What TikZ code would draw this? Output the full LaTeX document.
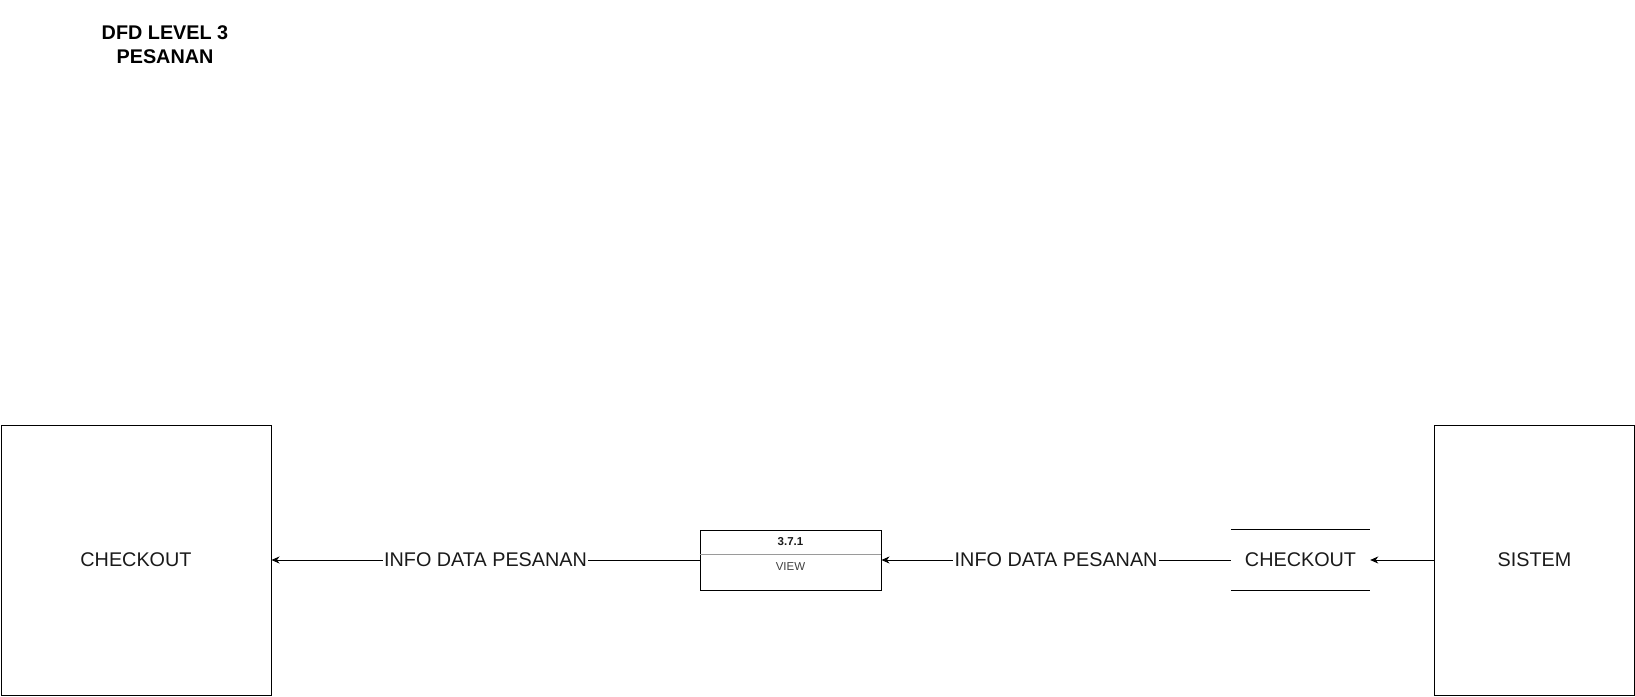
\documentclass[tikz,border=0pt]{standalone}
\usepackage{fontspec}
\setmainfont{Liberation Sans}
\usetikzlibrary{arrows.meta}
\definecolor{txt}{HTML}{1A1A1A}
\definecolor{divgray}{HTML}{9A9A9A}
\begin{document}
\begin{tikzpicture}[x=1pt,y=-1pt,
  ent/.style={draw=black,line width=1pt,minimum width=#1,inner sep=0pt,text=txt,font=\fontsize{19.8}{23}\selectfont},
  ent/.default={270pt},
  flowlbl/.style={fill=white,inner sep=1.5pt,text=txt,font=\fontsize{19.8}{23}\selectfont},
  flow/.style={line width=0.9pt,-{Stealth[length=8pt,width=7pt,inset=2.5pt]}},
  procbox/.style={draw=black,line width=0.9pt,minimum width=181pt,minimum height=60pt,inner sep=0pt},
  small/.style={font=\fontsize{11.5}{13}\selectfont,text=txt}]
\useasboundingbox (0,0) rectangle (1635,696);
% title
\node[font=\bfseries\fontsize{19.8}{24}\selectfont,align=center] (title) at (165,45) {DFD LEVEL 3\\PESANAN};
% entities
\node[ent=270pt,minimum height=270pt] (cust) at (136,560) {CHECKOUT};
\node[ent=200pt,minimum height=270pt] (sys) at (1534.5,560) {SISTEM};
% process
\node[procbox] (proc) at (790.5,560) {};
\draw[divgray,line width=0.8pt] (proc.west |- 0,554) -- (proc.east |- 0,554);
\node[small,font=\bfseries\fontsize{11.5}{13}\selectfont] (pid) at (790.5,542) {3.7.1};
\node[small,text=black!75] (pname) at (790.5,567) {VIEW};
% data store
\node[minimum width=139pt,minimum height=60pt,inner sep=0pt,text=txt,font=\fontsize{19.8}{23}\selectfont] (ds) at (1300.5,560) {CHECKOUT};
\draw[line width=0.9pt] (ds.north west) -- (ds.north east);
\draw[line width=0.9pt] (ds.south west) -- (ds.south east);
% flows
\draw[flow] (sys.west) -- (ds.east);
\draw[flow] (ds.west) -- node[flowlbl] (l2) {INFO DATA PESANAN} (proc.east);
\draw[flow] (proc.west) -- node[flowlbl] (l1) {INFO DATA PESANAN} (cust.east);
\end{tikzpicture}
\end{document}
